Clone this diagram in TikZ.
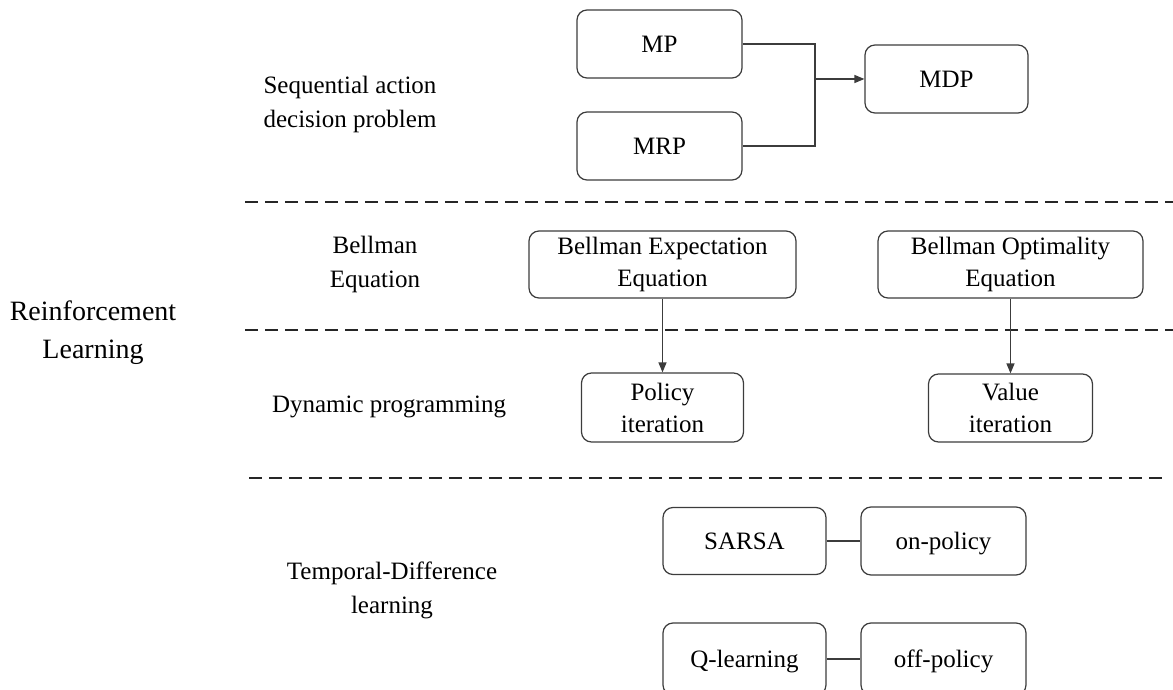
\documentclass[tikz,border=0pt]{standalone}
\usepackage{fontspec}
\setmainfont{Liberation Serif}
\usepackage{tikz}
\usetikzlibrary{arrows.meta, positioning, calc}
\definecolor{boxline}{RGB}{60, 60, 60}
\tikzset{
  rlbox/.style={draw=boxline, line width=1.2pt, rounded corners=10pt, align=center,
    inner sep=0pt, font=\fontsize{25}{32}\selectfont},
  oneline/.style={rlbox, text height=20pt, text depth=3.5pt},
  rowlabel/.style={align=center, inner sep=0pt, font=\fontsize{25}{34}\selectfont},
  sepline/.style={draw=black!85, line width=1.5pt, dash pattern=on 13pt off 7pt},
  link/.style={draw=boxline, line width=1.2pt},
  linkarrow/.style={link, -{Triangle[length=10pt, width=8pt]}}
}

\begin{document}
\begin{tikzpicture}[x=1pt, y=-1pt]
  \useasboundingbox (0,0) rectangle (1173,690);

  % Title on the left
  \node[rowlabel, font=\fontsize{28}{38}\selectfont] (rl) at (93, 333) {Reinforcement\\Learning};

  % Row labels
  \node[rowlabel] (seqlabel) at (350, 104) {Sequential action\\decision problem};
  \node[rowlabel] (belllabel) at (375, 264) {Bellman\\Equation};
  \node[rowlabel] (dplabel) at (389, 407) {Dynamic programming};
  \node[rowlabel] (tdlabel) at (392, 590) {Temporal-Difference\\learning};

  % Separators
  \draw[sepline] (245, 202) -- (1173, 202);
  \draw[sepline] (245, 330) -- (1173, 330);
  \draw[sepline] (249, 478) -- (1166, 478);

  % Sequential action decision problem
  \node[oneline, minimum width=165pt, minimum height=68pt] (mp) at (659.5, 44) {MP};
  \node[oneline, minimum width=165pt, minimum height=68pt] (mrp) at (659.5, 146) {MRP};
  \node[oneline, minimum width=163pt, minimum height=68pt] (mdp) at (946.5, 79) {MDP};
  \coordinate (join) at (815, 79);
  \draw[link] (mp.east) -| (join) |- (mrp.east);
  \draw[linkarrow] (join) -- (mdp.west);

  % Bellman equations
  \node[rlbox, minimum width=267pt, minimum height=67pt] (bee) at (662.5, 264.5) {Bellman Expectation\\Equation};
  \node[rlbox, minimum width=265pt, minimum height=67pt] (boe) at (1010.5, 264.5) {Bellman Optimality\\Equation};

  % Dynamic programming
  \node[rlbox, minimum width=162pt, minimum height=69pt] (policy) at (662.5, 407.5) {Policy\\iteration};
  \node[rlbox, minimum width=164pt, minimum height=68pt] (value) at (1010.5, 408) {Value\\iteration};
  \draw[linkarrow] (bee.south) -- (policy.north);
  \draw[linkarrow] (boe.south) -- (value.north);

  % Temporal-Difference learning
  \node[oneline, minimum width=163pt, minimum height=67pt] (sarsa) at (744.5, 541) {SARSA};
  \node[oneline, minimum width=165pt, minimum height=68pt] (onpol) at (943.5, 541) {on-policy};
  \node[oneline, minimum width=163pt, minimum height=72pt] (qlearn) at (744.5, 659) {Q-learning};
  \node[oneline, minimum width=165pt, minimum height=72pt] (offpol) at (943.5, 659) {off-policy};
  \draw[link] (sarsa) -- (onpol);
  \draw[link] (qlearn) -- (offpol);
\end{tikzpicture}
\end{document}
